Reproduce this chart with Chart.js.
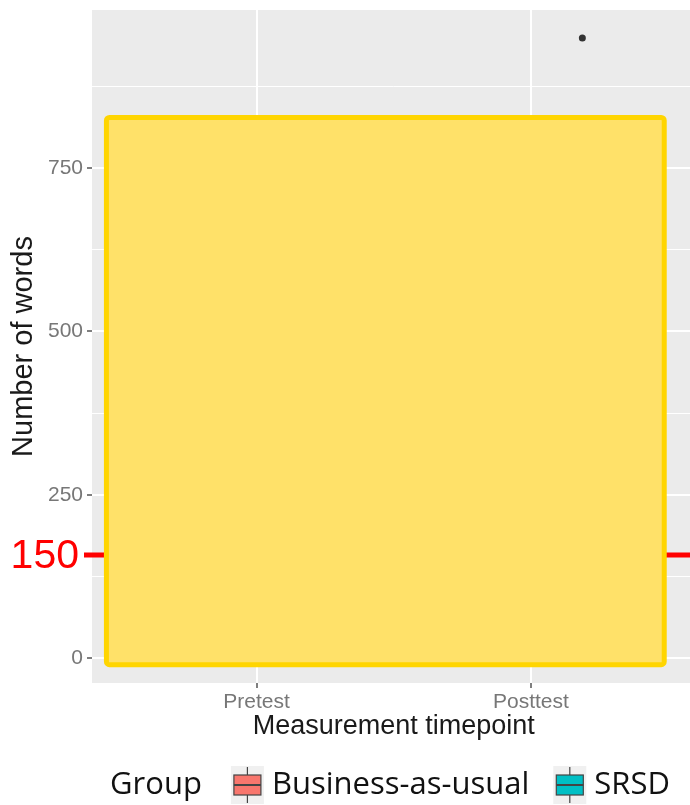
<!DOCTYPE html>
<html>
<head>
<meta charset="utf-8">
<script src="https://cdn.jsdelivr.net/npm/chart.js@4.4.1/dist/chart.umd.min.js"></script>
<style>
  html, body { margin: 0; padding: 0; background: #fff; overflow: hidden; }
  #wrap { width: 699px; height: 805px; }
</style>
</head>
<body>
<div id="wrap"><canvas id="chart" width="699" height="805"></canvas></div>
<script>
const categories = ['Pretest', 'Posttest'];
const groups = ['Business-as-usual', 'SRSD'];
const groupColors = ['#F8766D', '#00BFC4'];
// only observation not covered by the yellow box
const outlierCategory = ['Posttest'];
const outlierGroup = ['SRSD'];
const outlierValue = [949];
const yMajorTicks = [0, 250, 500, 750];
const thresholdValue = 158;
const thresholdLabel = '150';

// yellow overlay, in data units
const overlay = { xMin: 0.4526, xMax: 2.486, yMin: -10, yMax: 827.5 };

const dodge = 0.375;
const outlierPoints = outlierValue.map((v, i) => ({
  x: categories.indexOf(outlierCategory[i]) + 1 + (groups.indexOf(outlierGroup[i]) - 0.5) * dodge,
  y: v
}));

const isMajor = (v) => yMajorTicks.includes(v);

const ggPanel = {
  id: 'ggPanel',
  beforeDraw(chart) {
    const { ctx, chartArea: a } = chart;
    ctx.save();
    ctx.fillStyle = '#EBEBEB';
    ctx.fillRect(a.left, a.top, a.width, a.height);
    ctx.restore();
  },
  afterDatasetsDraw(chart) {
    const { ctx, chartArea: a, scales: { x, y } } = chart;
    ctx.save();
    // threshold line + label
    const ty = y.getPixelForValue(thresholdValue);
    ctx.strokeStyle = '#FF0000';
    ctx.lineWidth = 5;
    ctx.beginPath();
    ctx.moveTo(a.left - 8, ty);
    ctx.lineTo(chart.width, ty);
    ctx.stroke();
    ctx.fillStyle = '#FF0000';
    ctx.font = '41px "Liberation Sans", Arial, sans-serif';
    ctx.textAlign = 'right';
    ctx.textBaseline = 'middle';
    ctx.fillText(thresholdLabel, 79, ty + 2);

    // yellow box
    const x1 = x.getPixelForValue(overlay.xMin), x2 = x.getPixelForValue(overlay.xMax);
    const y1 = y.getPixelForValue(overlay.yMax), y2 = y.getPixelForValue(overlay.yMin);
    ctx.beginPath();
    if (ctx.roundRect) ctx.roundRect(x1, y1, x2 - x1, y2 - y1, 3);
    else ctx.rect(x1, y1, x2 - x1, y2 - y1);
    ctx.fillStyle = '#FFE169';
    ctx.fill();
    ctx.lineWidth = 5;
    ctx.strokeStyle = '#FFD500';
    ctx.stroke();
    ctx.restore();
  },
  afterDraw(chart) {
    const { ctx } = chart;
    ctx.save();
    ctx.font = '31px "Open Sans", sans-serif';
    ctx.textBaseline = 'middle';
    ctx.textAlign = 'left';
    ctx.fillStyle = '#111';
    const cy = 785, keyW = 33, gapTitle = 29, gapKey = 8, gapItem = 24;
    let total = ctx.measureText('Group').width + gapTitle;
    groups.forEach((g, i) => {
      total += keyW + gapKey + ctx.measureText(g).width + (i < groups.length - 1 ? gapItem : 0);
    });
    let cx = 390 - total / 2;
    ctx.fillText('Group', cx, cy);
    cx += ctx.measureText('Group').width + gapTitle;
    groups.forEach((g, i) => {
      ctx.fillStyle = '#F0F0F0';
      ctx.fillRect(cx, cy - 19, keyW, 38);
      const mid = cx + keyW / 2;
      ctx.strokeStyle = '#444';
      ctx.lineWidth = 1.2;
      ctx.beginPath();
      ctx.moveTo(mid, cy - 18); ctx.lineTo(mid, cy - 10);
      ctx.moveTo(mid, cy + 10); ctx.lineTo(mid, cy + 18);
      ctx.stroke();
      ctx.fillStyle = groupColors[i];
      ctx.fillRect(cx + 3, cy - 10, keyW - 6, 20);
      ctx.strokeRect(cx + 3, cy - 10, keyW - 6, 20);
      ctx.lineWidth = 2;
      ctx.beginPath();
      ctx.moveTo(cx + 3, cy); ctx.lineTo(cx + keyW - 3, cy);
      ctx.stroke();
      cx += keyW + gapKey;
      ctx.fillStyle = '#111';
      ctx.fillText(g, cx, cy);
      cx += ctx.measureText(g).width + gapItem;
    });
    ctx.restore();
  }
};

new Chart(document.getElementById('chart'), {
  type: 'scatter',
  data: {
    datasets: [{
      data: outlierPoints,
      pointRadius: 3.5,
      pointHoverRadius: 3.5,
      backgroundColor: '#333',
      borderWidth: 0
    }]
  },
  options: {
    responsive: false,
    devicePixelRatio: 1,
    animation: false,
    events: [],
    layout: { padding: { top: 10, bottom: 62, left: 0, right: 0 } },
    plugins: { legend: { display: false }, tooltip: { enabled: false } },
    scales: {
      x: {
        type: 'linear',
        min: 0.4,
        max: 2.6,
        afterBuildTicks: (s) => { s.ticks = categories.map((c, i) => ({ value: i + 1 })); },
        afterFit: (s) => { s.height = 60; s.paddingLeft = 0; s.paddingRight = 0; },
        border: { display: false },
        grid: { color: '#FFFFFF', lineWidth: 2, drawTicks: true, tickLength: 5, tickColor: '#555', tickWidth: 1.5 },
        ticks: {
          autoSkip: false, maxRotation: 0, padding: 2,
          color: '#777', font: { family: '"Liberation Sans", Arial, sans-serif', size: 21 },
          callback: (v, i) => categories[i]
        },
        title: {
          display: true, text: 'Measurement timepoint', color: '#1a1a1a', padding: 0,
          font: { family: '"Liberation Sans", Arial, sans-serif', size: 27 }
        }
      },
      y: {
        type: 'linear',
        min: -38,
        max: 992,
        afterFit: (s) => { s.width = 92; s.paddingTop = 0; s.paddingBottom = 0; },
        border: { display: false },
        grid: {
          color: '#FFFFFF',
          lineWidth: (c) => (c.tick && isMajor(c.tick.value) ? 2 : 1),
          drawTicks: true, tickLength: 5, tickWidth: 1.5,
          tickColor: (c) => (c.tick && isMajor(c.tick.value) ? '#555' : 'rgba(0,0,0,0)')
        },
        ticks: {
          stepSize: 125, includeBounds: false, padding: 4,
          color: '#777', font: { family: '"Liberation Sans", Arial, sans-serif', size: 21 },
          callback: (v) => (isMajor(v) ? String(v) : '')
        },
        title: {
          display: true, text: 'Number of words', color: '#1a1a1a', padding: { top: 7 },
          font: { family: '"Liberation Sans", Arial, sans-serif', size: 29 }
        }
      }
    }
  },
  plugins: [ggPanel]
});
</script>
</body>
</html>
